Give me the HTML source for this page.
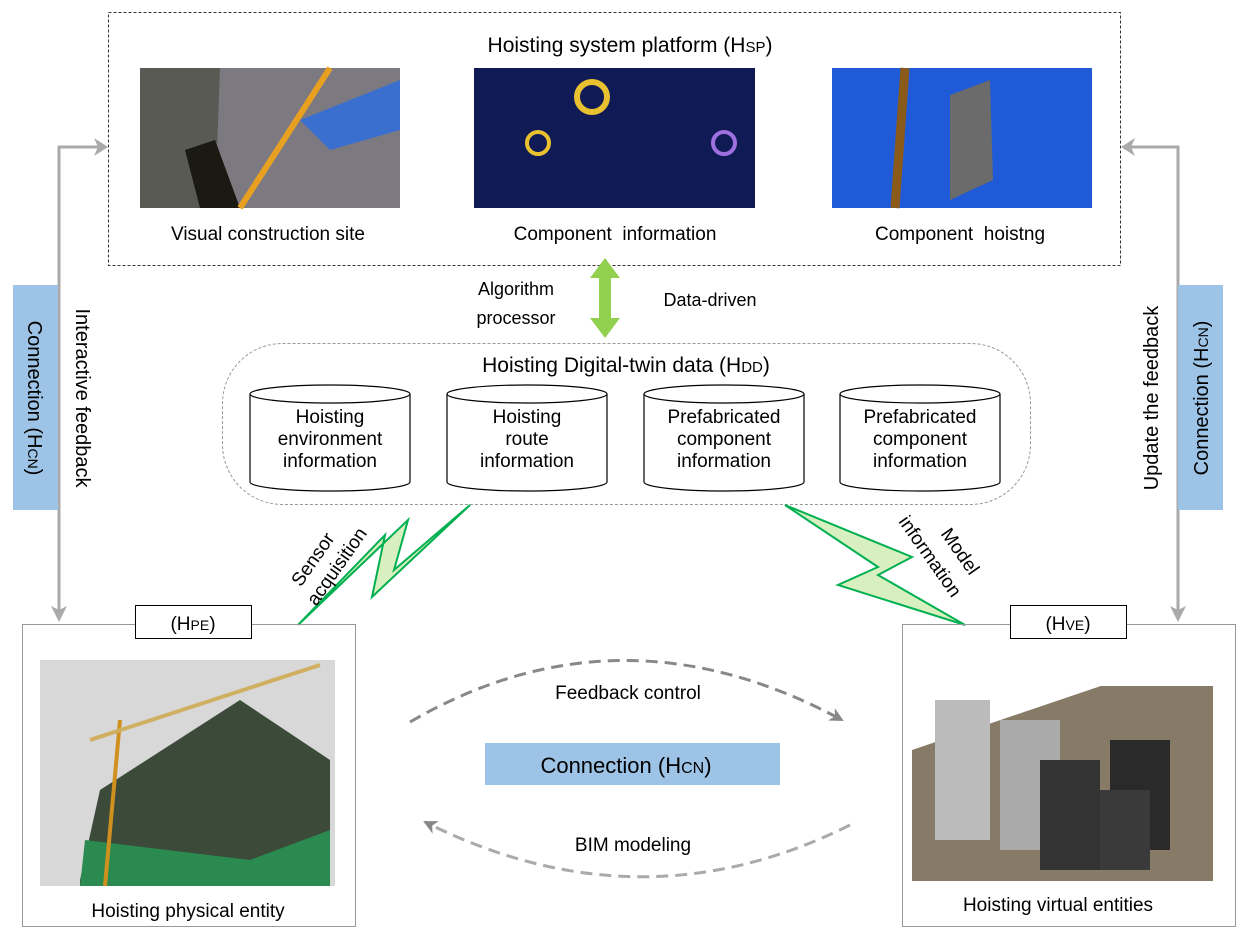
<!DOCTYPE html>
<html><head><meta charset="utf-8"><style>
body{margin:0;background:#fff}
svg{display:block;font-family:"Liberation Sans",sans-serif}
</style></head><body>
<svg width="1242" height="940" viewBox="0 0 1242 940" xmlns="http://www.w3.org/2000/svg">
<defs>
<marker id="ag" markerWidth="8" markerHeight="8" refX="6" refY="4" orient="auto" markerUnits="userSpaceOnUse"><path d="M0,0 L8,4 L0,8 L3,4z" fill="#999"/></marker>
<marker id="ad" markerWidth="16" markerHeight="14" refX="12" refY="7" orient="auto" markerUnits="userSpaceOnUse"><path d="M0,0 L14,7 L0,14 L4,7z" fill="#888"/></marker>
</defs>
<!-- top box -->
<rect x="108.5" y="12.5" width="1012" height="253" fill="none" stroke="#333" stroke-dasharray="3,2"/>
<text x="630" y="52" font-size="21" text-anchor="middle">Hoisting system platform (H<tspan font-size="15">SP</tspan>)</text>
<rect x="140" y="68" width="260" height="140" fill="#7c7a80"/>
<polygon points="140,68 220,68 215,208 140,208" fill="#5a5a55"/>
<polygon points="185,150 215,140 240,208 200,208" fill="#1a1a12"/>
<line x1="240" y1="208" x2="330" y2="68" stroke="#e8a020" stroke-width="6"/>
<polygon points="300,120 400,80 400,130 330,150" fill="#3a6fd0"/>
<rect x="474" y="68" width="281" height="140" fill="#101a55"/>
<circle cx="592" cy="97" r="15" fill="none" stroke="#e8c030" stroke-width="6"/>
<circle cx="538" cy="143" r="11" fill="none" stroke="#e8c030" stroke-width="4"/>
<circle cx="724" cy="143" r="11" fill="none" stroke="#a070e0" stroke-width="4"/>
<rect x="832" y="68" width="260" height="140" fill="#1f5ad8"/>
<line x1="905" y1="68" x2="895" y2="208" stroke="#8a5a1a" stroke-width="9"/>
<polygon points="950,95 990,80 993,180 950,200" fill="#6b6b6b"/>
<text x="268" y="240" font-size="19" text-anchor="middle">Visual construction site</text>
<text x="615" y="240" font-size="19" text-anchor="middle">Component&#160; information</text>
<text x="960" y="240" font-size="19" text-anchor="middle">Component&#160; hoistng</text>
<!-- green double arrow -->
<polygon points="605,258 620,278 611,278 611,318 620,318 605,338 590,318 599,318 599,278 590,278" fill="#92d050"/>
<text x="516" y="295" font-size="18" text-anchor="middle">Algorithm</text>
<text x="516" y="324" font-size="18" text-anchor="middle">processor</text>
<text x="710" y="306" font-size="18" text-anchor="middle">Data-driven</text>
<!-- HDD box -->
<rect x="222.5" y="343.5" width="808" height="161" rx="60" fill="none" stroke="#999" stroke-dasharray="3,2"/>
<text x="626" y="372" font-size="21" text-anchor="middle">Hoisting Digital-twin data (H<tspan font-size="15">DD</tspan>)</text>
<g fill="#fff" stroke="#000" stroke-width="1.2">
<path d="M250,394 v88 a80,9 0 0 0 160,0 v-88"/><ellipse cx="330" cy="394" rx="80" ry="9"/>
<path d="M447,394 v88 a80,9 0 0 0 160,0 v-88"/><ellipse cx="527" cy="394" rx="80" ry="9"/>
<path d="M644,394 v88 a80,9 0 0 0 160,0 v-88"/><ellipse cx="724" cy="394" rx="80" ry="9"/>
<path d="M840,394 v88 a80,9 0 0 0 160,0 v-88"/><ellipse cx="920" cy="394" rx="80" ry="9"/>
</g>
<g font-size="19" text-anchor="middle">
<text x="330" y="423">Hoisting</text><text x="330" y="445">environment</text><text x="330" y="467">information</text>
<text x="527" y="423">Hoisting</text><text x="527" y="445">route</text><text x="527" y="467">information</text>
<text x="724" y="423">Prefabricated</text><text x="724" y="445">component</text><text x="724" y="467">information</text>
<text x="920" y="423">Prefabricated</text><text x="920" y="445">component</text><text x="920" y="467">information</text>
</g>
<!-- side connectors -->
<polyline points="59,610 59,147 100,147" fill="none" stroke="#aaa" stroke-width="3"/>
<polygon points="108,147 94,138 98,147 94,156" fill="#aaa"/>
<polygon points="59,622 51,606 59,610 67,606" fill="#aaa"/>
<polyline points="1178,610 1178,147 1130,147" fill="none" stroke="#aaa" stroke-width="3"/>
<polygon points="1121,147 1135,138 1131,147 1135,156" fill="#aaa"/>
<polygon points="1178,622 1170,606 1178,610 1186,606" fill="#aaa"/>
<rect x="13" y="285" width="45" height="225" fill="#9dc3e6"/>
<text transform="translate(28,398) rotate(90)" font-size="20" text-anchor="middle">Connection (H<tspan font-size="14">CN</tspan>)</text>
<text transform="translate(76,398) rotate(90)" font-size="20" text-anchor="middle">Interactive feedback</text>
<rect x="1178" y="285" width="45" height="225" fill="#9dc3e6"/>
<text transform="translate(1208,398) rotate(-90)" font-size="20" text-anchor="middle">Connection (H<tspan font-size="14">CN</tspan>)</text>
<text transform="translate(1158,398) rotate(-90)" font-size="20" text-anchor="middle">Update the feedback</text>
<!-- lightning -->
<polygon points="298,625 385,535 372,597 470,505 394,570 408,520" fill="#d8f0c0" stroke="#00b050" stroke-width="2"/>
<polygon points="785,505 878,567 838,585 965,625 878,575 912,557" fill="#d8f0c0" stroke="#00b050" stroke-width="2"/>
<text transform="translate(318,563) rotate(-55)" font-size="19" text-anchor="middle">Sensor</text>
<text transform="translate(342,570) rotate(-55)" font-size="19" text-anchor="middle">acquisition</text>
<text transform="translate(955,555) rotate(55)" font-size="19" text-anchor="middle">Model</text>
<text transform="translate(925,560) rotate(55)" font-size="19" text-anchor="middle">information</text>
<!-- bottom boxes -->
<rect x="22.5" y="624.5" width="333" height="302" fill="none" stroke="#999"/>
<rect x="135.5" y="605.5" width="116" height="33" fill="#fff" stroke="#000"/>
<text x="193" y="630" font-size="19" text-anchor="middle">(H<tspan font-size="14">PE</tspan>)</text>
<rect x="40" y="660" width="295" height="226" fill="#d8d8d8"/>
<polygon points="80,880 100,790 240,700 330,760 330,886 80,886" fill="#3c4a3a"/>
<polygon points="80,886 85,840 250,860 330,830 330,886" fill="#2a8a50"/>
<line x1="105" y1="886" x2="120" y2="720" stroke="#d09020" stroke-width="4"/>
<line x1="90" y1="740" x2="320" y2="665" stroke="#d0b060" stroke-width="4"/>
<text x="188" y="917" font-size="19" text-anchor="middle">Hoisting physical entity</text>
<rect x="902.5" y="624.5" width="333" height="302" fill="none" stroke="#999"/>
<rect x="1010.5" y="605.5" width="116" height="33" fill="#fff" stroke="#000"/>
<text x="1068" y="630" font-size="19" text-anchor="middle">(H<tspan font-size="14">VE</tspan>)</text>
<rect x="912" y="686" width="301" height="195" fill="#877b68"/>
<polygon points="912,686 1213,686 1213,648 912,750" fill="#fff"/>
<rect x="935" y="700" width="55" height="140" fill="#bbb"/>
<rect x="1000" y="720" width="60" height="130" fill="#aaa"/>
<rect x="1040" y="760" width="60" height="110" fill="#333"/>
<rect x="1110" y="740" width="60" height="110" fill="#2a2a2a"/>
<rect x="1100" y="790" width="50" height="80" fill="#3a3a3a"/>
<text x="1058" y="911" font-size="19" text-anchor="middle">Hoisting virtual entities</text>
<!-- center -->
<path d="M410,722 Q620,600 842,720" fill="none" stroke="#888" stroke-width="3" stroke-dasharray="12,7" marker-end="url(#ad)"/>
<path d="M850,825 Q640,930 425,822" fill="none" stroke="#aaa" stroke-width="3" stroke-dasharray="12,7" marker-end="url(#ad)"/>
<text x="628" y="699" font-size="19" text-anchor="middle">Feedback control</text>
<text x="633" y="851" font-size="19" text-anchor="middle">BIM modeling</text>
<rect x="485" y="743" width="295" height="42" fill="#9dc3e6"/>
<text x="626" y="773" font-size="22" text-anchor="middle">Connection (H<tspan font-size="16">CN</tspan>)</text>
</svg>
</body></html>
